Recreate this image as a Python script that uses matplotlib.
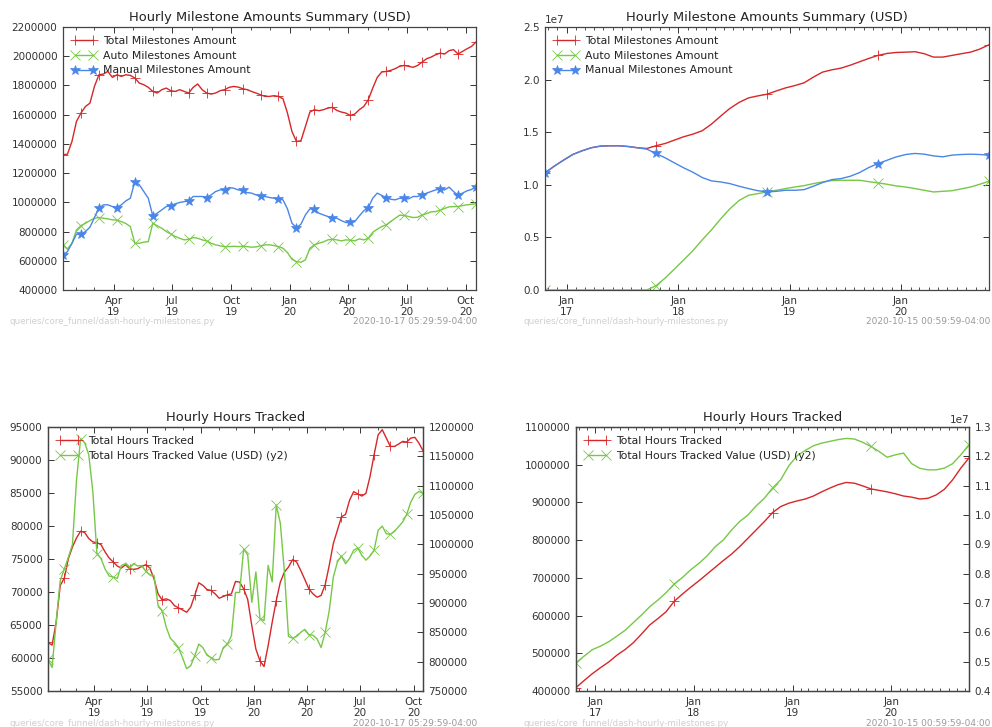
import numpy as np
import pandas as pd
import matplotlib
matplotlib.use('Agg')
import matplotlib.pyplot as plt
import matplotlib.dates as mdates
from matplotlib.ticker import MultipleLocator

plt.rcParams['font.family'] = 'DejaVu Sans'
plt.rcParams['axes.formatter.limits'] = [-7, 7]
plt.rcParams['xtick.labelsize'] = 7.5
plt.rcParams['ytick.labelsize'] = 7.5
plt.rcParams['text.color'] = '#222222'
plt.rcParams['xtick.color'] = '#333333'
plt.rcParams['ytick.color'] = '#333333'

RED = '#d62728'
GREEN = '#77c846'
BLUE = '#4a86e8'

# --- recent window (weekly readings), thousands ---
recent_dates = pd.date_range('2019-01-12', periods=93, freq='7D')

total_ms_recent = [1325, 1330, 1417, 1554, 1611, 1656, 1679, 1793, 1873, 1878,
                   1896, 1855, 1873, 1862, 1873, 1869, 1851, 1816, 1805, 1787,
                   1759, 1748, 1771, 1782, 1764, 1759, 1771, 1759, 1748, 1787,
                   1810, 1771, 1748, 1741, 1748, 1764, 1771, 1787, 1793, 1789,
                   1778, 1771, 1759, 1748, 1736, 1725, 1725,
                   1730, 1725, 1709, 1611, 1485, 1417, 1421, 1519, 1618, 1634,
                   1627, 1634, 1645, 1650, 1629, 1618, 1611, 1595, 1604, 1634,
                   1656, 1702, 1782, 1855, 1892, 1896, 1903, 1915, 1931, 1937,
                   1931, 1924, 1937, 1960, 1983, 1994, 2010, 2021, 2015, 2038,
                   2045, 2015, 2033, 2051, 2067, 2097]
auto_ms_recent = [709, 681, 720, 811, 841, 857, 875, 891, 896, 891,
                  887, 880, 878, 868, 855, 834, 720, 720, 727, 731,
                  857, 839, 823, 800, 784, 766, 754, 743, 747, 759,
                  754, 743, 736, 720, 709, 702, 697, 697, 699, 697,
                  699, 697, 693, 695, 702, 709, 709,
                  704, 697, 686, 656, 610, 594, 590, 606, 686, 709,
                  720, 729, 743, 747, 743, 736, 743, 741, 736, 750,
                  743, 754, 795, 816, 834, 846, 868, 891, 912, 910,
                  903, 896, 898, 914, 923, 935, 937, 946, 958, 969,
                  971, 971, 978, 983, 987, 990]
manual_ms_recent = [640, 663, 720, 782, 782, 800, 830, 896, 960, 983,
                    983, 971, 964, 983, 1010, 1028, 1142, 1120, 1074, 1028,
                    907, 926, 948, 971, 978, 990, 999, 1005, 1010, 1040,
                    1040, 1040, 1033, 1051, 1074, 1085, 1085, 1101, 1097, 1085,
                    1083, 1067, 1063, 1051, 1044, 1040, 1033,
                    1028, 1024, 1017, 955, 857, 827, 850, 914, 955, 953,
                    926, 914, 903, 896, 891, 875, 862, 862, 868, 907,
                    942, 964, 1028, 1063, 1047, 1033, 1021, 1017, 1028, 1028,
                    1024, 1040, 1040, 1051, 1063, 1074, 1085, 1092, 1085, 1104,
                    1074, 1047, 1063, 1079, 1088, 1108]

hours_recent = [62360, 61950, 65410, 70990, 72110, 75050, 76830, 78200, 79210, 79010,
                78100, 77590, 77490, 77180, 76070, 75150, 74540, 73930, 73630, 74140,
                73530, 73430, 73530, 73880, 74140, 73630, 72010, 69720, 68810, 68960,
                68710, 67950, 67590, 67290, 66930, 67690, 69470, 71400, 70990, 70380,
                70230, 69720, 69060, 69320, 69570, 69720, 71600,
                71500, 70480, 68860, 64900, 61350, 59570, 58710, 61850, 65410, 68710,
                71500, 73020, 73780, 74900, 74540, 73270, 71900, 70480, 69720, 69210,
                69470, 71090, 74040, 77340, 79370, 81400, 81750, 83930, 85200, 84850,
                84540, 84950, 87490, 90790, 93830, 94590, 93320, 92060, 92060, 92410,
                92820, 92720, 93320, 93430, 92560, 91400]
hours_value_recent = [804, 790, 867, 938, 958, 978, 1000, 1110, 1180, 1173,
                      1153, 1090, 984, 976, 958, 946, 944, 942, 964, 967,
                      961, 967, 963, 964, 954, 948, 947, 896, 887, 859,
                      840, 833, 824, 807, 788, 793, 810, 830, 824, 811,
                      807, 803, 804, 824, 830, 844, 918,
                      918, 992, 982, 901, 953, 873, 870, 964, 936, 1067,
                      1036, 953, 843, 840, 843, 850, 855, 846, 845, 839,
                      824, 850, 887, 944, 970, 980, 967, 976, 990, 994,
                      981, 973, 980, 990, 1024, 1031, 1018, 1017, 1022, 1030,
                      1038, 1051, 1072, 1085, 1090, 1087]

# --- full history (monthly readings), units of 1e7 USD ---
long_dates = pd.date_range('2016-10-22', '2020-10-15', periods=49)

total_ms_long = [1.113, 1.177, 1.234, 1.288, 1.323, 1.352, 1.368, 1.371, 1.371, 1.364,
                 1.352, 1.345, 1.371, 1.393, 1.425, 1.457, 1.482, 1.514, 1.577, 1.654,
                 1.727, 1.784, 1.826, 1.845, 1.861, 1.892, 1.921, 1.943, 1.969, 2.023,
                 2.071, 2.093, 2.109, 2.137, 2.169, 2.201, 2.230, 2.249, 2.258, 2.261,
                 2.265, 2.246, 2.214, 2.214, 2.230, 2.246, 2.261, 2.290, 2.331]
auto_ms_long = [0, 0, 0, 0, 0, 0, 0, 0, 0, 0,
                0, 0, 0.041, 0.114, 0.200, 0.286, 0.375, 0.477, 0.572, 0.677,
                0.773, 0.852, 0.900, 0.916, 0.932, 0.948, 0.964, 0.979, 0.992, 1.011,
                1.027, 1.040, 1.043, 1.043, 1.043, 1.030, 1.018, 1.005, 0.989, 0.979,
                0.964, 0.948, 0.932, 0.938, 0.944, 0.961, 0.979, 1.005, 1.034]
manual_ms_long = [1.113, 1.177, 1.234, 1.288, 1.323, 1.352, 1.368, 1.371, 1.371, 1.364,
                  1.352, 1.339, 1.298, 1.256, 1.208, 1.161, 1.119, 1.069, 1.037, 1.027,
                  1.011, 0.986, 0.964, 0.944, 0.932, 0.938, 0.948, 0.948, 0.954, 0.986,
                  1.021, 1.049, 1.059, 1.081, 1.116, 1.164, 1.202, 1.234, 1.266, 1.288,
                  1.298, 1.291, 1.275, 1.266, 1.282, 1.288, 1.291, 1.288, 1.282]

# hours in thousands, value in 1e7 USD
hours_long = [409, 428, 446, 462, 477, 495, 510, 528, 551, 575,
              592, 610, 638, 657, 675, 692, 710, 728, 746, 763,
              783, 805, 827, 849, 873, 889, 898, 904, 909, 917,
              928, 938, 947, 953, 951, 944, 936, 932, 928, 923,
              917, 914, 909, 911, 920, 935, 960, 991, 1018]
hours_value_long = [0.496, 0.519, 0.541, 0.553, 0.568, 0.587, 0.607, 0.633, 0.659, 0.687,
                    0.710, 0.735, 0.765, 0.787, 0.813, 0.835, 0.860, 0.892, 0.915, 0.949,
                    0.978, 1.000, 1.031, 1.057, 1.092, 1.120, 1.168, 1.202, 1.220, 1.236,
                    1.245, 1.251, 1.257, 1.261, 1.259, 1.248, 1.234, 1.217, 1.197, 1.205,
                    1.211, 1.175, 1.159, 1.154, 1.154, 1.160, 1.175, 1.205, 1.240]

W, H = 992, 727
fig = plt.figure(figsize=(W / 100, H / 100), dpi=100)

MARKER_SIZE = {'+': 6.5, 'x': 7, '*': 7}


def box(left, top, right, bottom):
    return [left / W, 1 - bottom / H, (right - left) / W, (bottom - top) / H]


def style_axes(ax, twin=False):
    for s in ax.spines.values():
        s.set_color('#444444')
        s.set_linewidth(0.9)
    ax.tick_params(which='both', direction='in', top=True, right=not twin, pad=4)
    ax.tick_params(which='major', length=4, width=0.7)
    ax.tick_params(which='minor', length=2, width=0.6)


def date_axis(ax, months):
    ax.xaxis.set_major_locator(mdates.MonthLocator(bymonth=months))
    ax.xaxis.set_minor_locator(mdates.MonthLocator())
    ax.xaxis.set_major_formatter(mdates.DateFormatter('%b\n%y'))


def line(ax, x, y, color, marker, every):
    return ax.plot(x, y, color=color, lw=1.0, marker=marker, markevery=every,
                   ms=MARKER_SIZE[marker], mec=color, mfc=color,
                   mew=0.6 if marker != '*' else 0.5)[0]


def legend(ax, handles, labels):
    ax.legend(handles, labels, loc='upper left', frameon=False, numpoints=2,
              fontsize=7.8, handlelength=2.3, handletextpad=0.6,
              labelspacing=0.45, borderaxespad=0.4)


def footer(x0, x1, y, stamp):
    fig.text(x0 / W, 1 - y / H, 'queries/core_funnel/dash-hourly-milestones.py',
             fontsize=6.3, color='#cfcfcf', va='center')
    fig.text(x1 / W, 1 - y / H, stamp, fontsize=6.5, color='#9a9a9a',
             va='center', ha='right')


ms_labels = ['Total Milestones Amount', 'Auto Milestones Amount', 'Manual Milestones Amount']
hr_labels = ['Total Hours Tracked', 'Total Hours Tracked Value (USD) (y2)']

# top-left
ax = fig.add_axes(box(63, 27, 476, 290))
h = [line(ax, recent_dates, np.array(total_ms_recent) * 1000, RED, '+', 4),
     line(ax, recent_dates, np.array(auto_ms_recent) * 1000, GREEN, 'x', 4),
     line(ax, recent_dates, np.array(manual_ms_recent) * 1000, BLUE, '*', 4)]
ax.set_ylim(400000, 2200000)
ax.yaxis.set_major_locator(MultipleLocator(200000))
ax.set_xlim(recent_dates[0], recent_dates[-1])
date_axis(ax, [1, 4, 7, 10])
style_axes(ax)
ax.set_title('Hourly Milestone Amounts Summary (USD)', fontsize=9.4, pad=4)
legend(ax, h, ms_labels)
footer(9, 477, 322, '2020-10-17 05:29:59-04:00')

# top-right
ax = fig.add_axes(box(545, 27, 989, 290))
h = [line(ax, long_dates, np.array(total_ms_long) * 1e7, RED, '+', 12),
     line(ax, long_dates, np.array(auto_ms_long) * 1e7, GREEN, 'x', 12),
     line(ax, long_dates, np.array(manual_ms_long) * 1e7, BLUE, '*', 12)]
ax.set_ylim(0, 2.5e7)
ax.yaxis.set_major_locator(MultipleLocator(0.5e7))
ax.set_xlim(long_dates[0], long_dates[-1])
date_axis(ax, [1])
style_axes(ax)
ax.set_title('Hourly Milestone Amounts Summary (USD)', fontsize=9.4, pad=4)
legend(ax, h, ms_labels)
footer(523, 990, 322, '2020-10-15 00:59:59-04:00')

# bottom-left
ax = fig.add_axes(box(48, 427, 423, 691))
ax2 = ax.twinx()
h = [line(ax, recent_dates, hours_recent, RED, '+', 4),
     line(ax2, recent_dates, np.array(hours_value_recent) * 1000, GREEN, 'x', 4)]
ax.set_ylim(55000, 95000)
ax.yaxis.set_major_locator(MultipleLocator(5000))
ax2.set_ylim(750000, 1200000)
ax2.yaxis.set_major_locator(MultipleLocator(50000))
ax.set_xlim(recent_dates[0], recent_dates[-1])
date_axis(ax, [1, 4, 7, 10])
style_axes(ax, twin=True)
style_axes(ax2, twin=True)
ax2.tick_params(which='both', left=False, right=True, top=False)
ax.set_title('Hourly Hours Tracked', fontsize=9.4, pad=4)
legend(ax2, h, hr_labels)
footer(9, 477, 723, '2020-10-17 05:29:59-04:00')

# bottom-right
ax = fig.add_axes(box(576, 427, 969, 691))
ax2 = ax.twinx()
h = [line(ax, long_dates, np.array(hours_long) * 1000, RED, '+', 12),
     line(ax2, long_dates, np.array(hours_value_long) * 1e7, GREEN, 'x', 12)]
ax.set_ylim(400000, 1100000)
ax.yaxis.set_major_locator(MultipleLocator(100000))
ax2.set_ylim(0.4e7, 1.3e7)
ax2.yaxis.set_major_locator(MultipleLocator(0.1e7))
ax.set_xlim(long_dates[0], long_dates[-1])
date_axis(ax, [1])
style_axes(ax, twin=True)
style_axes(ax2, twin=True)
ax2.tick_params(which='both', left=False, right=True, top=False)
ax2.yaxis.get_offset_text().set_horizontalalignment('right')
ax.set_title('Hourly Hours Tracked', fontsize=9.4, pad=4)
legend(ax2, h, hr_labels)
footer(523, 990, 723, '2020-10-15 00:59:59-04:00')

fig.savefig('out.png', dpi=100, facecolor='white')
